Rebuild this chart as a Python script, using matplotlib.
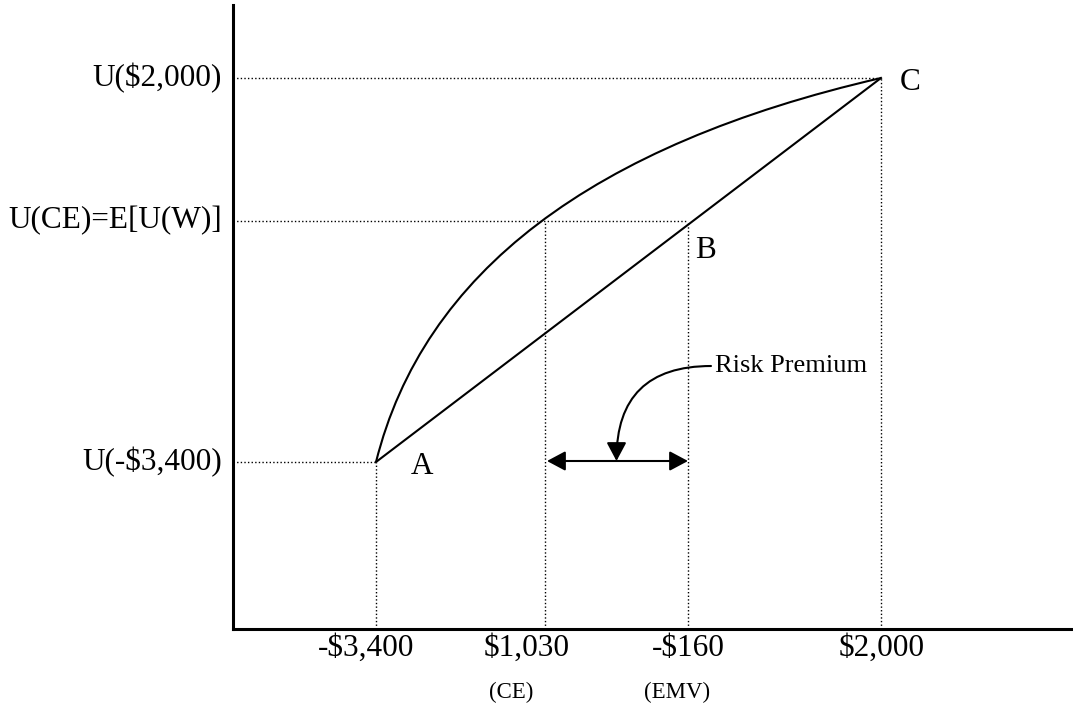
import matplotlib.pyplot as plt
from matplotlib.path import Path
from matplotlib.patches import PathPatch

plt.rcParams['font.family'] = ['Liberation Serif', 'DejaVu Serif']

# schematic positions (no real scale in the original drawing)
wealth_labels = ['-$3,400', '$1,030', '-$160', '$2,000']
wealth_notes = ['', '(CE)', '(EMV)', '']
wealth_pos = [143, 312, 455, 648]

util_labels = ['U(-$3,400)', 'U(CE)=E[U(W)]', 'U($2,000)']
util_pos = [167, 408, 551]

# utility curve: quadratic bezier A -> ctrl -> C
curve_ctrl = (214, 451)

point_names = ['A', 'B', 'C']
point_label_xy = [(189, 162), (472, 379), (677, 547)]

rp_text = 'Risk Premium'
rp_text_xy = (482, 263)

fig = plt.figure(figsize=(10.73, 7.11), dpi=100)
ax = fig.add_axes([233/1073, 82/711, 1 - 233/1073, 624/711])
ax.set_xlim(0, 840)
ax.set_ylim(0, 624)
for s in ['top', 'right']:
    ax.spines[s].set_visible(False)
for s in ['left', 'bottom']:
    ax.spines[s].set_linewidth(2.2)
ax.set_xticks([])
ax.set_yticks([])

xA, xCE, xEMV, xC = wealth_pos
uA, uCE, uC = util_pos

dot = dict(color='black', lw=1.0, linestyle=(0, (1, 1.6)))
# horizontal guides
ax.plot([0, xC], [uC, uC], **dot)
ax.plot([0, xEMV], [uCE, uCE], **dot)
ax.plot([0, xA], [uA, uA], **dot)
# vertical guides
ax.plot([xA, xA], [0, uA], **dot)
ax.plot([xCE, xCE], [0, uCE], **dot)
ax.plot([xEMV, xEMV], [0, uCE], **dot)
ax.plot([xC, xC], [0, uC], **dot)

# utility curve and chord
path = Path([(xA, uA), curve_ctrl, (xC, uC)], [Path.MOVETO, Path.CURVE3, Path.CURVE3])
ax.add_patch(PathPatch(path, facecolor='none', edgecolor='black', lw=1.5))
ax.plot([xA, xC], [uA, uC], color='black', lw=1.5)

# labels on the axes
for lab, u in zip(util_labels, util_pos):
    ax.text(-11, u, lab, ha='right', va='center', fontsize=22.5, parse_math=False)
offs = [-10, -18, 0, 1]
for lab, note, w, dx in zip(wealth_labels, wealth_notes, wealth_pos, offs):
    ax.text(w + dx, -19, lab, ha='center', va='center', fontsize=22.5, parse_math=False)
    if note:
        ax.text(w + dx - 16 + (5 if note == '(EMV)' else 0), -63, note,
                ha='center', va='center', fontsize=16.5)

for name, (px, py) in zip(point_names, point_label_xy):
    ax.text(px, py, name, ha='center', va='center', fontsize=22.5)

# risk premium arrows
ax.annotate('', xy=(xEMV, uA + 1), xytext=(xCE + 2, uA + 1),
            arrowprops=dict(arrowstyle='<|-|>,head_length=0.45,head_width=0.24',
                            mutation_scale=25, color='black', lw=1.5,
                            shrinkA=0, shrinkB=0))
ax.annotate('', xy=((xCE + xEMV) / 2, uA + 1), xytext=(rp_text_xy[0] - 4, rp_text_xy[1]),
            arrowprops=dict(arrowstyle='-|>,head_length=0.45,head_width=0.24',
                            mutation_scale=25, color='black', lw=1.5,
                            shrinkA=0, shrinkB=0,
                            connectionstyle='angle3,angleA=0,angleB=90'))
ax.text(rp_text_xy[0], rp_text_xy[1], rp_text, ha='left', va='center', fontsize=19)

fig.savefig('out.png', dpi=100)
